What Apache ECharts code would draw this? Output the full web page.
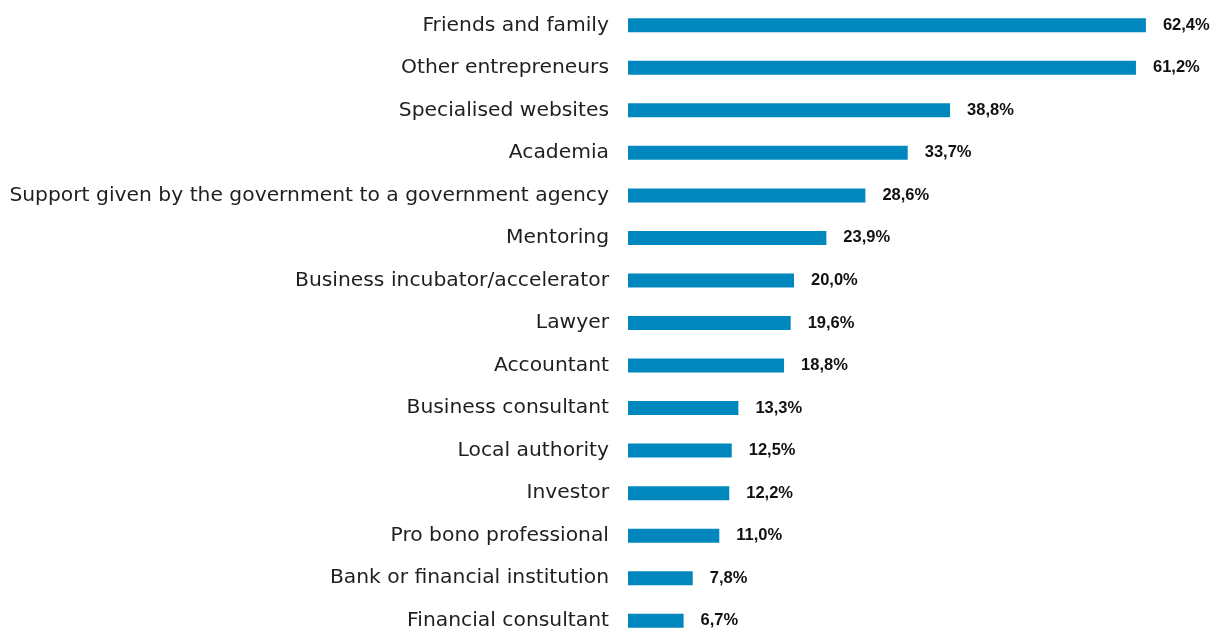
<!DOCTYPE html>
<html>
<head>
<meta charset="utf-8">
<script src="https://cdn.jsdelivr.net/npm/echarts@6/dist/echarts.min.js"></script>
<style>
html,body{margin:0;padding:0;background:#fff;overflow:hidden;}
#chart{width:1225px;height:660px;}
</style>
</head>
<body>
<div id="chart"></div>
<script>
const categories = [
  "Friends and family",
  "Other entrepreneurs",
  "Specialised websites",
  "Academia",
  "Support given by the government to a government agency",
  "Mentoring",
  "Business incubator/accelerator",
  "Lawyer",
  "Accountant",
  "Business consultant",
  "Local authority",
  "Investor",
  "Pro bono professional",
  "Bank or financial institution",
  "Financial consultant"
];
const values = [62.4, 61.2, 38.8, 33.7, 28.6, 23.9, 20.0, 19.6, 18.8, 13.3, 12.5, 12.2, 11.0, 7.8, 6.7];

const chart = echarts.init(document.getElementById('chart'), null, {renderer: 'canvas'});
chart.setOption({
  animation: false,
  backgroundColor: '#ffffff',
  grid: {left: 628, top: 4, width: 581, height: 638, containLabel: false},
  xAxis: {
    type: 'value', min: 0, max: 70, show: false
  },
  yAxis: {
    type: 'category',
    data: categories,
    inverse: true,
    axisLine: {show: false},
    axisTick: {show: false},
    splitLine: {show: false},
    axisLabel: {
      margin: 19,
      color: '#1f1f1f',
      fontFamily: 'DejaVu Sans',
      fontSize: 20.3
    }
  },
  series: [{
    type: 'bar',
    data: values,
    barWidth: 14,
    itemStyle: {color: '#0088BE'},
    label: {
      show: true,
      position: 'right',
      distance: 17,
      color: '#111',
      fontFamily: 'Liberation Sans',
      fontWeight: 'bold',
      fontSize: 16.5,
      formatter: p => p.value.toFixed(1).replace('.', ',') + '%'
    }
  }]
});
</script>
</body>
</html>
